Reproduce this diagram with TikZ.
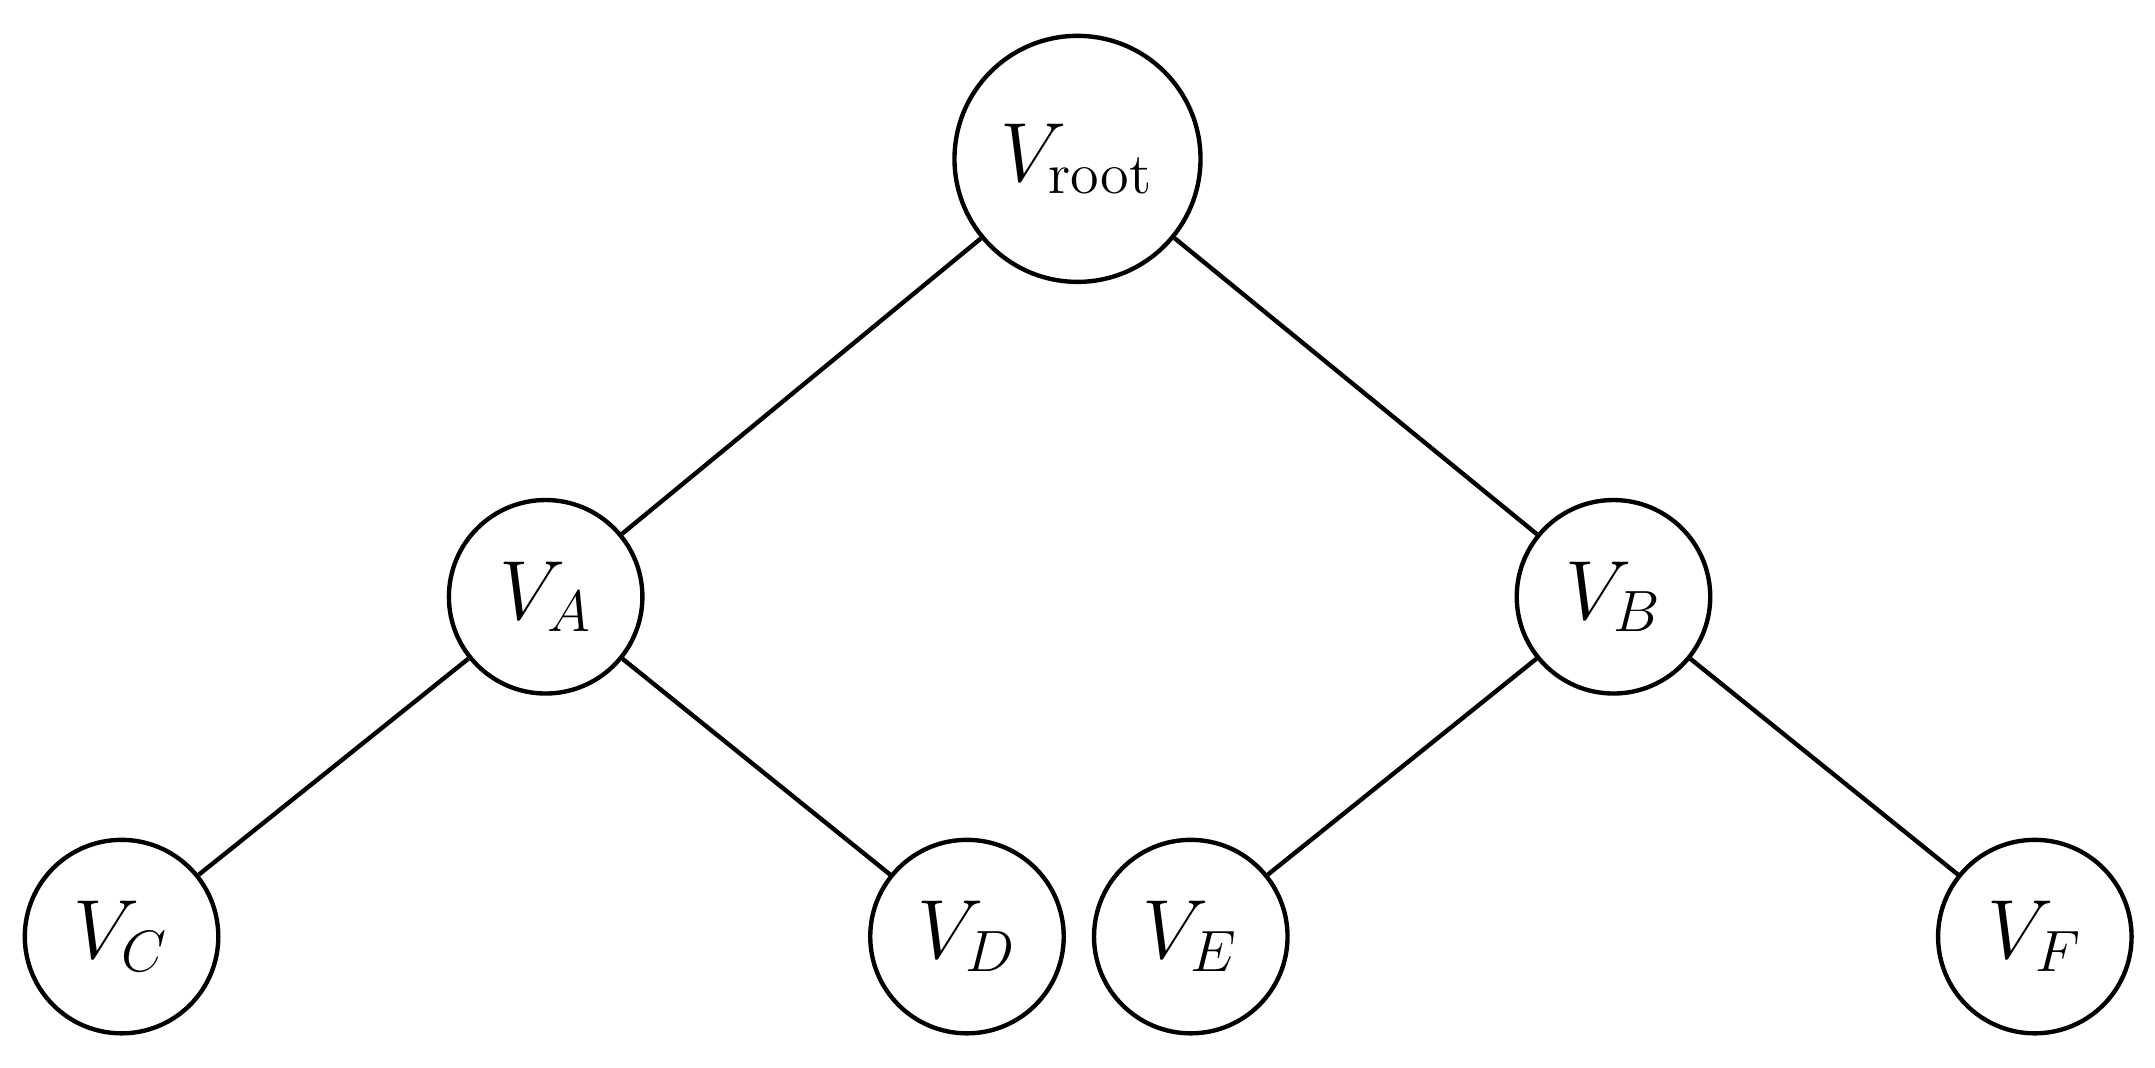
\documentclass[tikz,border=0pt]{standalone}
\begin{document}
\begin{tikzpicture}[x=0.01cm,y=-0.01cm,
  v/.style={circle,draw,line width=0.9pt,minimum size=1.4cm,inner sep=0pt,font=\fontsize{17}{20}\selectfont},
  e/.style={line width=0.9pt}]
\useasboundingbox (0,0) rectangle (1560,773);
\node[v,minimum size=1.78cm] (r) at (780,115) {$V_{\mathrm{root}}$};
\node[v] (a) at (395,432) {$V_A$};
\node[v] (b) at (1168,432) {$V_B$};
\node[v] (c) at (88,678) {$V_C$};
\node[v] (d) at (700,678) {$V_D$};
\node[v] (ee) at (862,678) {$V_E$};
\node[v] (f) at (1473,678) {$V_F$};
\draw[e] (r) -- (a); \draw[e] (r) -- (b);
\draw[e] (a) -- (c); \draw[e] (a) -- (d);
\draw[e] (b) -- (ee); \draw[e] (b) -- (f);
\end{tikzpicture}
\end{document}
